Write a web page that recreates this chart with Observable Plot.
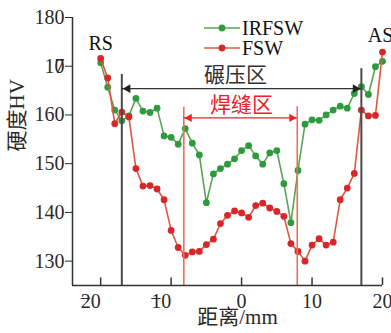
<!DOCTYPE html>
<html><head><meta charset="utf-8">
<script src="https://cdn.jsdelivr.net/npm/d3@7"></script>
<script src="https://cdn.jsdelivr.net/npm/@observablehq/plot@0.6"></script>
<style>body{margin:0;background:#fff} svg{display:block}</style>
</head><body><div id="chart"></div>
<script>
// distance from weld centre (mm)
const distance = [-20,-19,-18,-17,-16,-15,-14,-13,-12,-11,-10,-9,-8,-7,-6,-5,-4,-3,-2,-1,0,1,2,3,4,5,6,7,8,9,10,11,12,13,14,15,16,17,18,19,20];
// hardness HV
const irfsw = [170.7,165.7,161.0,158.8,159.8,163.4,160.8,160.5,161.4,155.7,155.4,154.0,157.2,154.2,151.8,142.0,147.9,149.0,149.9,151.0,152.7,153.7,151.6,149.9,152.2,152.7,145.9,137.9,148.6,158.1,159.0,158.9,160.0,161.0,161.8,161.4,164.4,165.8,164.2,169.9,171.0];
const fsw = [171.6,167.6,158.2,160.6,159.6,149.0,145.4,145.5,144.8,142.6,136.3,132.8,131.2,131.9,132.0,133.4,134.5,137.7,139.4,140.3,139.9,139.0,141.4,141.9,140.9,140.2,139.2,133.6,132.0,130.0,133.3,134.6,133.3,133.9,142.6,145.0,148.0,161.0,159.8,159.9,172.9];
const xTicks = [-20,-10,0,10,20];
const yTicks = [130,140,150,160,170,180];
const seriesNames = ["IRFSW","FSW"];
// zone boundaries
const rollingZone = [-17, 17];
const rollingTop = [168.3, 169.5];
const weldZone = [-8.2, 7.9];
const weldTop = [161.6, 161.7];
const rollingArrowY = 165.4;
const weldArrowY = 159.4;
const annotations = [
  {x:-0.87, y:168.05, text:"碾压区", color:"#333"},
  {x:0, y:161.9, text:"焊缝区", color:"#ee2028"}
];
const rsLabel = [{x:-20, y:174.6, text:"RS"}];
const asLabel = [{x:17.9, y:176.3, text:"AS"}];

const rows = distance.map((d,i)=>({d, irfsw:irfsw[i], fsw:fsw[i]}));
const font = "'Liberation Serif','Noto Sans CJK SC',serif";
const ink = "#2a2a2a";
const gLine = "#5aa454", gDot = "#2e9a3e", rLine = "#dd5840", rDot = "#d8262a";

const chart = Plot.plot({
  width:391, height:333,
  marginLeft:72, marginRight:9, marginTop:17, marginBottom:48,
  x:{domain:[-24,20]}, y:{domain:[125,180]},
  style:{fontFamily:font, background:"#fff", color:ink},
  marks:[
    Plot.line(rows,{x:"d", y:"irfsw", stroke:gLine, strokeWidth:1.6}),
    Plot.dot(rows,{x:"d", y:"irfsw", r:3.4, fill:gDot}),
    Plot.line(rows,{x:"d", y:"fsw", stroke:rLine, strokeWidth:1.6}),
    Plot.dot(rows,{x:"d", y:"fsw", r:3.4, fill:rDot}),
    // zone rules
    Plot.ruleX(rollingZone,{x:d=>d, y1:125, y2:(d,i)=>rollingTop[i], stroke:"#4a4a4a", strokeWidth:2}),
    Plot.ruleX(weldZone,{x:d=>d, y1:125, y2:(d,i)=>weldTop[i], stroke:"#e8735a", strokeWidth:1.6}),
    // arrows
    Plot.ruleY([rollingArrowY],{x1:rollingZone[0], x2:rollingZone[1], stroke:"#333", strokeWidth:1.4}),
    Plot.dot([rollingZone[0]],{x:d=>d, y:rollingArrowY, symbol:"triangle", r:3.3, rotate:-90, dx:6, fill:"#222", stroke:"none"}),
    Plot.dot([rollingZone[1]],{x:d=>d, y:rollingArrowY, symbol:"triangle", r:3.3, rotate:90, dx:-6, fill:"#222", stroke:"none"}),
    Plot.ruleY([weldArrowY],{x1:weldZone[0], x2:weldZone[1], stroke:"#ee2028", strokeWidth:1.4}),
    Plot.dot([weldZone[0]],{x:d=>d, y:weldArrowY, symbol:"triangle", r:3.1, rotate:-90, dx:5.5, fill:"#ee2028", stroke:"none"}),
    Plot.dot([weldZone[1]],{x:d=>d, y:weldArrowY, symbol:"triangle", r:3.1, rotate:90, dx:-5.5, fill:"#ee2028", stroke:"none"}),
    Plot.text(annotations,{x:"x", y:"y", text:"text", fill:d=>d.color, fontSize:21}),
    Plot.text(rsLabel,{x:"x", y:"y", text:"text", fontSize:20, fill:"#111"}),
    Plot.text(asLabel,{x:"x", y:"y", text:"text", textAnchor:"start", fontSize:20, fill:"#111"}),
    // axes lines
    Plot.ruleX([-24],{y1:125, y2:180, stroke:"#333", strokeWidth:1.5}),
    Plot.ruleY([125],{x1:-24, x2:20, stroke:"#333", strokeWidth:1.5}),
    Plot.axisY({ticks:yTicks, tickSize:7, tickPadding:1, fontSize:20, tickFormat:d=>d===170?"10":String(d)}),
    Plot.text(yTicks.filter(d=>d===170),{x:-24, y:d=>d, text:()=>"7", textAnchor:"end", dx:-8, fontSize:20, fill:ink}),
    Plot.ruleX(xTicks,{x:d=>d, y1:125, y2:126.55, stroke:"#333", strokeWidth:1.5}),
    Plot.axisX({ticks:xTicks, tickSize:0, tickPadding:8, fontSize:20, tickFormat:d=>d<0?"":String(d)}),
    Plot.text(xTicks.filter(d=>d<0),{x:d=>d, y:125, text:d=>String(-d), textAnchor:"end", lineAnchor:"top", dy:8, fontSize:20, fill:ink}),
    Plot.text(xTicks.filter(d=>d<0),{x:d=>d, y:125, text:()=>"−", textAnchor:"start", lineAnchor:"top", dx:-21, dy:5, fontSize:20, fill:ink}),
    // axis titles
    Plot.text(["距离/mm"],{frameAnchor:"bottom", text:d=>d, dx:10, dy:38, fontSize:21, fill:ink}),
    Plot.text(["硬度HV"],{frameAnchor:"left", text:d=>d, rotate:-90, dx:-55, fontSize:21, fill:ink})
  ]
});

// legend
const svg = d3.select(chart);
const leg = svg.append("g").attr("font-family", font).attr("font-size", 20).attr("text-anchor","start");
[[gLine,gDot,28],[rLine,rDot,48]].forEach(([lc,dc,y],i)=>{
  leg.append("line").attr("x1",204).attr("x2",240).attr("y1",y).attr("y2",y).attr("stroke",lc).attr("stroke-width",1.6);
  leg.append("circle").attr("cx",222).attr("cy",y).attr("r",3.4).attr("fill",dc);
  leg.append("text").attr("x",242).attr("y",y+1).attr("dy","0.32em").attr("fill","#111").attr("text-anchor","start").text(seriesNames[i]);
});
document.getElementById("chart").appendChild(chart);
</script>
</body></html>
